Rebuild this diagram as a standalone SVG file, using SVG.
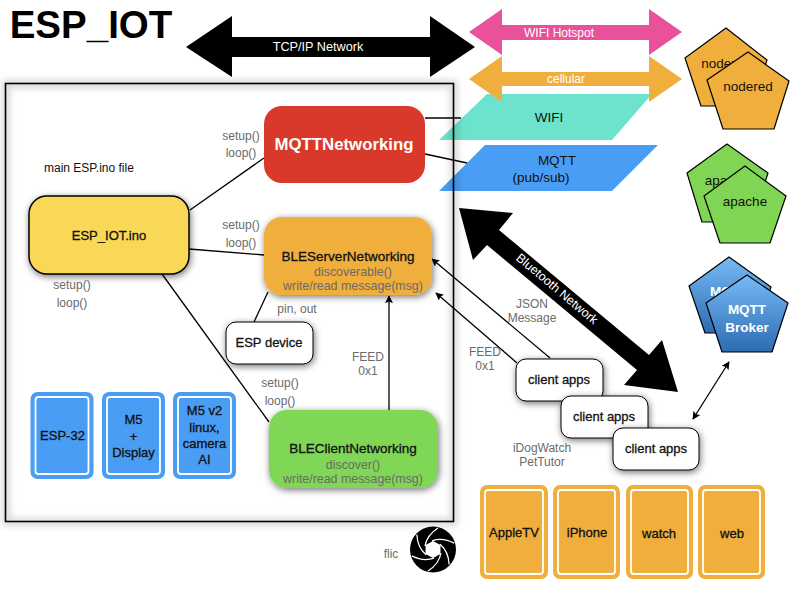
<svg xmlns="http://www.w3.org/2000/svg" width="800" height="600" viewBox="0 0 800 600">
<style>
text{font-family:"Liberation Sans",Arial,sans-serif;font-size:12px;text-anchor:middle;fill:#111}
.g{fill:#6a6a6a}
.w{fill:#fff}
.m{font-size:13px;stroke:#111;stroke-width:.3}
.mw{font-size:13.500px;font-weight:bold;fill:#fff}
.big{font-size:13.500px;stroke:#111;stroke-width:.3}
.s{font-size:12.400px}
.n{font-size:13.500px}
.c{fill:none;stroke:#000;stroke-width:1.3}
.box{stroke:#000;stroke-width:1}
.pent{stroke:#000;stroke-width:1.2;stroke-linejoin:round}
.blue{fill:#4a9df5}
.or{fill:#f0ae3c}
.ring{fill:none;stroke:#fff;stroke-width:1.8}
</style>
<defs>
<filter id="sh" x="-20%" y="-20%" width="140%" height="150%"><feDropShadow dx="1" dy="2" stdDeviation="3.500" flood-color="#000" flood-opacity=".55"/></filter>
<filter id="bl" x="-5%" y="-5%" width="110%" height="110%"><feGaussianBlur stdDeviation="3.500"/></filter>
<linearGradient id="bg" x1="0" y1="0" x2="0" y2="1"><stop offset="0" stop-color="#78baf5"/><stop offset="1" stop-color="#2c6cb2"/></linearGradient>
<marker id="ah" viewBox="0 0 10 10" refX="9" refY="5" markerWidth="8" markerHeight="8" markerUnits="userSpaceOnUse" orient="auto-start-reverse"><path d="M0 0L10 5L0 10L2 5Z" fill="#000"/></marker>
</defs>

<text x="91" y="38" style="font-size:38.500px;font-weight:bold;fill:#000">ESP_IOT</text>

<g id="wifi"><polygon points="487,94 652,94 612,140 439,140" fill="#6de3cd"/><text x="549" y="122" class="n">WIFI</text></g>
<g id="mqtt-bus"><polygon points="485,145 658,145 612,191 439,191" class="blue"/><text x="557" y="165" class="n">MQTT</text><text x="541" y="182" class="n">(pub/sub)</text></g>

<g id="frame">
<rect x="6" y="84" width="448" height="438" fill="none" stroke="#000" stroke-width="8" opacity=".15" filter="url(#bl)"/>
<rect x="5.500" y="83.500" width="448" height="438" fill="none" stroke="#000" stroke-width="1.600"/>
</g>

<g id="tcp"><polygon points="186,47 232,16 232,37 430,37 430,16 475,47 430,77 430,57 232,57 232,77" fill="#000"/><text x="318" y="51" class="w" style="font-size:12.700px">TCP/IP Network</text></g>
<g id="hotspot"><polygon points="469,32 502,9 502,25 649,25 649,9 682,32 649,55 649,40 502,40 502,55" fill="#ea519b"/><text x="559" y="36.500" class="w">WIFI Hotspot</text></g>
<g id="cellular"><polygon points="469,79 502,56 502,72 649,72 649,56 682,79 649,102 649,86 502,86 502,102" class="or"/><text x="566" y="83" class="w">cellular</text></g>
<g id="bluetooth"><polygon points="459,208 513,213 499,230 649,355 662,340 678,392 624,385 637,370 487,245 473,260" fill="#000"/><text x="557" y="293" class="w" style="font-size:12.500px" transform="rotate(40 557 289)">Bluetooth Network</text></g>

<g id="connectors">
<line class="c" x1="190" y1="210" x2="264" y2="158"/>
<line class="c" x1="189" y1="249" x2="264" y2="255"/>
<line class="c" x1="162" y1="274" x2="269" y2="422"/>
<line class="c" x1="268" y1="292" x2="254" y2="322"/>
<line class="c" x1="425" y1="118" x2="461" y2="118"/>
<line class="c" x1="425" y1="154" x2="467" y2="163"/>
<line class="c" x1="389" y1="410" x2="389" y2="296" marker-end="url(#ah)"/>
<line class="c" x1="550" y1="358" x2="432" y2="259" marker-end="url(#ah)"/>
<line class="c" x1="517" y1="363" x2="436" y2="293" marker-end="url(#ah)"/>
<line class="c" x1="693" y1="419" x2="729" y2="362" marker-start="url(#ah)" marker-end="url(#ah)"/>
</g>

<g id="mqttnet"><rect x="264" y="106" width="161" height="77" rx="18" fill="#d9392a"/><text x="344" y="150" class="w" style="font-size:16.800px;font-weight:bold">MQTTNetworking</text></g>
<g id="espino"><rect x="29" y="196" width="160" height="78" rx="18" fill="#f8d857" stroke="#000" stroke-width="1.500" filter="url(#sh)"/><text x="109" y="240" class="m">ESP_IOT.ino</text></g>
<g id="bleserver"><rect x="264" y="217" width="168" height="78" rx="18" class="or" filter="url(#sh)"/><text x="348" y="261" class="big">BLEServerNetworking</text><text x="353" y="276" class="g s">discoverable()</text><text x="353" y="290" class="g s">write/read message(msg)</text></g>
<g id="espdevice"><rect x="226" y="322" width="87" height="42" rx="10" fill="#fff" class="box" filter="url(#sh)"/><text x="269" y="347" class="m">ESP device</text></g>
<g id="bleclient"><rect x="269" y="410" width="169" height="78" rx="18" fill="#80d654" filter="url(#sh)"/><text x="353" y="453" class="big">BLEClientNetworking</text><text x="353" y="469" class="g s">discover()</text><text x="353" y="483" class="g s">write/read message(msg)</text></g>

<g id="esp32"><rect x="30.500" y="392" width="63" height="87" rx="7" class="blue"/><rect x="35.500" y="397" width="53" height="77" rx="3" class="ring"/><text x="62.500" y="440" class="m">ESP-32</text></g>
<g id="m5"><rect x="102" y="392" width="63" height="87" rx="7" class="blue"/><rect x="107" y="397" width="53" height="77" rx="3" class="ring"/><text x="133.500" y="424" class="m">M5</text><text x="133.500" y="441" class="m">+</text><text x="133.500" y="457" class="m">Display</text></g>
<g id="m5v2"><rect x="173" y="392" width="63" height="87" rx="7" class="blue"/><rect x="178" y="397" width="53" height="77" rx="3" class="ring"/><text x="204.500" y="415" class="m">M5 v2</text><text x="204.500" y="432" class="m">linux,</text><text x="204.500" y="448" class="m">camera</text><text x="204.500" y="464" class="m">AI</text></g>

<g id="client1"><rect x="516" y="359" width="87" height="42" rx="10" fill="#fff" class="box" filter="url(#sh)"/><text x="559" y="384" class="m">client apps</text></g>
<g id="client2"><rect x="561" y="396" width="87" height="42" rx="10" fill="#fff" class="box" filter="url(#sh)"/><text x="604" y="421" class="m">client apps</text></g>
<g id="client3"><rect x="613" y="428" width="86" height="42" rx="10" fill="#fff" class="box" filter="url(#sh)"/><text x="656" y="453" class="m">client apps</text></g>

<g id="appletv"><rect x="480" y="485" width="68" height="94" rx="7" class="or"/><rect x="485" y="490" width="58" height="84" rx="3" class="ring"/><text x="514" y="537" class="m">AppleTV</text></g>
<g id="iphone"><rect x="553" y="485" width="67" height="94" rx="7" class="or"/><rect x="558" y="490" width="57" height="84" rx="3" class="ring"/><text x="587" y="537" class="m">iPhone</text></g>
<g id="watch"><rect x="626" y="485" width="67" height="94" rx="7" class="or"/><rect x="631" y="490" width="57" height="84" rx="3" class="ring"/><text x="659" y="538" class="m">watch</text></g>
<g id="web"><rect x="698" y="485" width="67" height="94" rx="7" class="or"/><rect x="703" y="490" width="57" height="84" rx="3" class="ring"/><text x="732" y="538" class="m">web</text></g>

<g id="nodered-back"><polygon class="pent or" points="726,28 767,60 752,106 701,106 685,58"/><text x="726" y="68" class="n">nodered</text></g>
<g id="nodered"><polygon class="pent or" points="748,52 789,81 774,129 723,129 707,80"/><text x="748" y="91" class="n">nodered</text></g>
<g id="apache-back"><polygon class="pent" fill="#80d654" points="727,144 768,173 752,222 702,222 687,173"/><text x="727" y="185" class="n">apache</text></g>
<g id="apache"><polygon class="pent" fill="#80d654" points="745,166 786,196 770,243 720,243 704,196"/><text x="745" y="206" class="n">apache</text></g>
<g id="broker-back"><polygon class="pent" fill="url(#bg)" points="729,257 771,287 755,333 705,333 689,286"/><text x="729" y="296" class="mw">MQTT</text></g>
<g id="broker"><polygon class="pent" fill="url(#bg)" points="747,275 788,303 772,352 722,352 706,303"/><text x="747" y="314" class="mw">MQTT</text><text x="747" y="332" class="mw">Broker</text></g>

<g id="flic">
<circle cx="433" cy="549.500" r="23" fill="#000"/>
<g fill="none" stroke="#fff" stroke-width="1.300">
<path d="M425 546Q427 535 438 528"/>
<path d="M425 546Q427 535 438 528" transform="rotate(60 433 549.500)"/>
<path d="M425 546Q427 535 438 528" transform="rotate(120 433 549.500)"/>
<path d="M425 546Q427 535 438 528" transform="rotate(180 433 549.500)"/>
<path d="M425 546Q427 535 438 528" transform="rotate(240 433 549.500)"/>
<path d="M425 546Q427 535 438 528" transform="rotate(300 433 549.500)"/>
</g>
<polygon points="433,541 440.500,545 440.500,554 433,558 425.500,554 425.500,545" fill="#fff"/>
<text x="391" y="558" class="g">flic</text>
</g>

<g id="labels">
<text x="44" y="172" style="text-anchor:start">main ESP.ino file</text>
<text x="241" y="140" class="g">setup()</text><text x="241" y="157" class="g">loop()</text>
<text x="241" y="229" class="g">setup()</text><text x="241" y="247" class="g">loop()</text>
<text x="72" y="289" class="g">setup()</text><text x="72" y="307" class="g">loop()</text>
<text x="280" y="387" class="g">setup()</text><text x="280" y="405" class="g">loop()</text>
<text x="297" y="313" class="g">pin, out</text>
<text x="368" y="361" class="g">FEED</text><text x="368" y="375" class="g">0x1</text>
<text x="532" y="308" class="g">JSON</text><text x="532" y="322" class="g">Message</text>
<text x="485" y="356" class="g">FEED</text><text x="485" y="370" class="g">0x1</text>
<text x="542" y="452" class="g">iDogWatch</text><text x="542" y="466" class="g">PetTutor</text>
</g>
</svg>
